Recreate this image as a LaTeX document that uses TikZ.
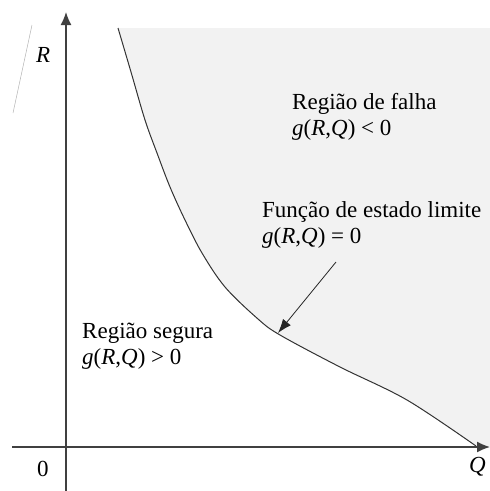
\documentclass[tikz,border=0pt]{standalone}
\usepackage{fontspec}
\setmainfont{Liberation Serif}
\usetikzlibrary{arrows.meta}
\begin{document}
\begin{tikzpicture}[x=1pt,y=-1pt,
  axis/.style={draw=black!75,line width=1.4pt,-{Latex[length=13pt,width=11pt]}},
  lbl/.style={anchor=base west,inner sep=0pt,font=\fontsize{23}{26}\selectfont},
  curve/.style={draw=black!80,line width=1pt}]
\useasboundingbox (0,0) rectangle (490,491);
\def\curvepts{(118,28) (131,72) (145,120) (157,153) (170,187) (185,220) (202,253) (225,287) (258,319) (280,335) (340,367) (407,400) (476,446)}
\fill[black!5] plot[smooth,tension=0.55] coordinates {\curvepts} -- (490,446) -- (490,28) -- cycle;
\draw[curve] plot[smooth,tension=0.55] coordinates {\curvepts};
\draw[black!30,line width=0.5pt] (32,25) -- (13,113);
\coordinate (yb) at (66,491);
\coordinate (yt) at (66,12);
\coordinate (xl) at (12,447);
\coordinate (xr) at (490,447);
\draw[axis] (yb) -- (yt);
\draw[axis] (xl) -- (xr);
\node[lbl] (r) at (36,62) {\textit{R}};
\node[lbl] (o) at (37,476) {0};
\node[lbl] (q) at (469,472) {\textit{Q}};
\node[lbl] (f1) at (292,109) {Região de falha};
\node[lbl] (f2) at (292,135) {\textit{g}(\textit{R},\textit{Q}) < 0};
\node[lbl] (e1) at (262,217) {Função de estado limite};
\node[lbl] (e2) at (262,243) {\textit{g}(\textit{R},\textit{Q}) = 0};
\node[lbl] (s1) at (82,338) {Região segura};
\node[lbl] (s2) at (82,364) {\textit{g}(\textit{R},\textit{Q}) > 0};
\coordinate (tip) at (278,333);
\draw[black!85,line width=0.8pt,-{Latex[length=14pt,width=10pt]}] (336,262) -- (tip);
\end{tikzpicture}
\end{document}
